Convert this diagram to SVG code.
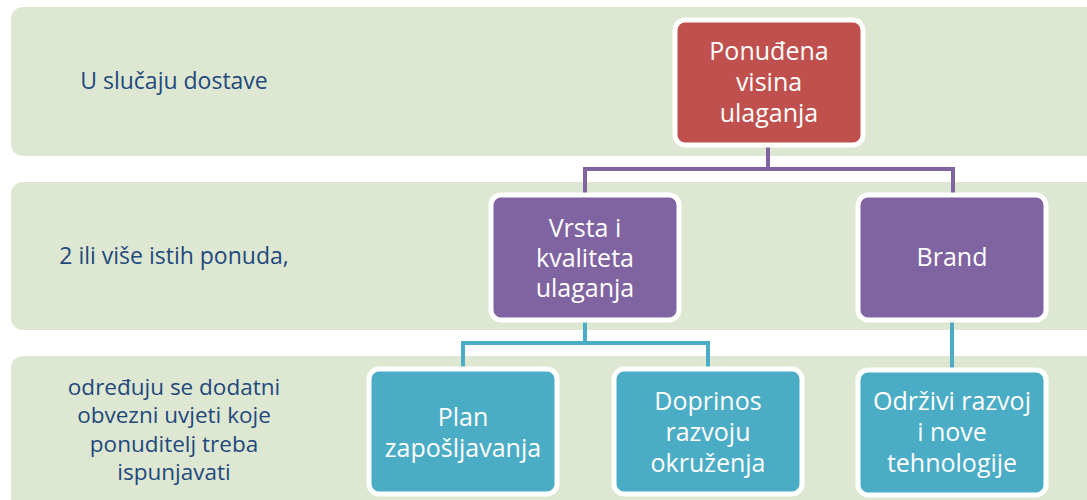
<svg xmlns="http://www.w3.org/2000/svg" width="1087" height="500" viewBox="0 0 1087 500">
<style>
.band{fill:#DEE7D1}
.lbl{font-family:"Open Sans","Noto Sans",sans-serif;font-size:23px;fill:#1F497D;text-anchor:middle}
.lbl2{font-family:"Open Sans","Noto Sans",sans-serif;font-size:22.5px;fill:#1F497D;text-anchor:middle}
.nt{font-family:"Open Sans","Noto Sans",sans-serif;font-size:25px;fill:#FFFFFF;text-anchor:middle}
.box{stroke:#FFFFFF;stroke-width:5}
.red{fill:#C0504D}
.pur{fill:#8064A2}
.teal{fill:#4BACC6}
.cp{fill:none;stroke:#8064A2;stroke-width:4}
.ct{fill:none;stroke:#4BACC6;stroke-width:4}
</style>
<rect width="1087" height="500" fill="#FFFFFF"/>
<g id="bands">
<rect class="band" x="11" y="7" width="1100" height="149" rx="12"/>
<rect class="band" x="11" y="182" width="1100" height="148" rx="12"/>
<rect class="band" x="11" y="356" width="1100" height="160" rx="12"/>
</g>
<g id="band-labels">
<text class="lbl" x="174" y="89">U slučaju dostave</text>
<text class="lbl" x="174" y="264">2 ili više istih ponuda,</text>
<text class="lbl2" x="174" y="395">određuju se dodatni</text>
<text class="lbl2" x="174" y="423">obvezni uvjeti koje</text>
<text class="lbl2" x="174" y="452">ponuditelj treba</text>
<text class="lbl2" x="174" y="480">ispunjavati</text>
</g>
<g id="connectors">
<path class="cp" d="M768 145 V169 H585 V195 M768 169 H953 V195"/>
<path class="ct" d="M585 320 V343 H463 V369 M585 343 H708 V369"/>
<path class="ct" d="M952 320 V370"/>
</g>
<g id="n-ponudena">
<rect class="box red" x="675" y="20" width="188" height="125" rx="10"/>
<text class="nt" x="769" y="60">Ponuđena</text>
<text class="nt" x="769" y="91">visina</text>
<text class="nt" x="769" y="122">ulaganja</text>
</g>
<g id="n-vrsta">
<rect class="box pur" x="491" y="195" width="188" height="125" rx="10"/>
<text class="nt" x="585" y="237">Vrsta i</text>
<text class="nt" x="585" y="267">kvaliteta</text>
<text class="nt" x="585" y="297">ulaganja</text>
</g>
<g id="n-brand">
<rect class="box pur" x="858" y="195" width="188" height="125" rx="10"/>
<text class="nt" x="952" y="266">Brand</text>
</g>
<g id="n-plan">
<rect class="box teal" x="369" y="369" width="188" height="125" rx="10"/>
<text class="nt" x="463" y="426">Plan</text>
<text class="nt" x="463" y="457">zapošljavanja</text>
</g>
<g id="n-doprinos">
<rect class="box teal" x="614" y="369" width="188" height="125" rx="10"/>
<text class="nt" x="708" y="410">Doprinos</text>
<text class="nt" x="708" y="441">razvoju</text>
<text class="nt" x="708" y="472">okruženja</text>
</g>
<g id="n-odrzivi">
<rect class="box teal" x="858" y="370" width="188" height="125" rx="10"/>
<text class="nt" x="952" y="410">Održivi razvoj</text>
<text class="nt" x="952" y="441">i nove</text>
<text class="nt" x="952" y="472">tehnologije</text>
</g>
</svg>
